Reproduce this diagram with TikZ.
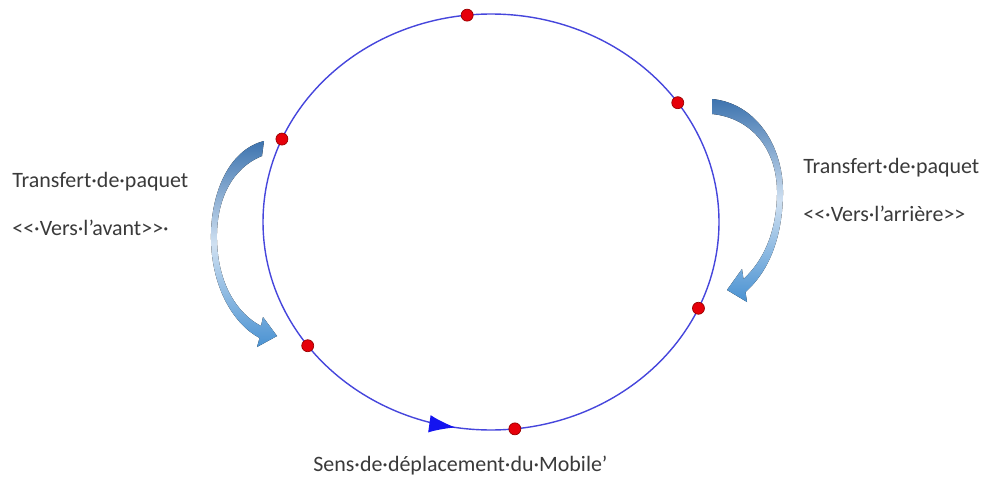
\documentclass[tikz,border=0pt]{standalone}
\usepackage{fontspec}
\setmainfont{Carlito}
\usepackage{tikz}
\usetikzlibrary{arrows.meta,decorations.markings}
\definecolor{ringblue}{HTML}{4646DC}
\definecolor{headblue}{HTML}{1414F0}
\definecolor{dotred}{HTML}{E6000A}
\definecolor{dotedge}{HTML}{9A0000}
\definecolor{ink}{HTML}{3A3A3A}
\definecolor{flowtop}{HTML}{3E74AF}
\definecolor{flowmid}{HTML}{CFE0F1}
\definecolor{flowbot}{HTML}{4A92D2}

\begin{document}
\begin{tikzpicture}[x=0.02cm, y=0.02cm,
  every node/.style={font=\fontsize{12.5}{15}\selectfont, text=ink},
  ring/.style={draw=ringblue, line width=0.8pt},
  station/.style={circle, draw=dotedge, fill=dotred, line width=0.4pt,
                  inner sep=0pt, minimum size=0.24cm},
  flow/.style={top color=flowtop, bottom color=flowbot, middle color=flowmid},
  lbl/.style={anchor=west, inner sep=0pt}
]
  \useasboundingbox (0,0) rectangle (984,481);

  % the ring and the direction of the mobile
  \draw[ring, postaction={decorate},
        decoration={markings, mark=at position 0.724 with
          {\arrow{Latex[length=15pt, width=10pt, color=headblue]}}}]
    (491,259) ellipse [x radius=228, y radius=208];

  \foreach \ang/\nm in {96/a, 35/b, 156.5/c, -24.5/d, 216.5/e, 276/f}
    \node[station] (st\nm) at ({491+228*cos(\ang)}, {259+208*sin(\ang)}) {};

  % forward transfer (left)
  \fill[flow] (264,340) .. controls (228,331) and (210,286) .. (211,241)
    .. controls (212,191) and (235,156) .. (259.6,143)
    -- (257,134) -- (277,145) -- (263,164) -- (261,155)
    .. controls (238,167) and (218,196) .. (217,241)
    .. controls (216,281) and (232,313) .. (262,325) -- cycle;

  % backward transfer (right)
  \fill[flow] (712,382) .. controls (755,378) and (784,336) .. (783,286)
    .. controls (782,241) and (768,209) .. (745.5,189)
    -- (747,179) -- (727,191) -- (742,212) -- (743.5,202)
    .. controls (762,219) and (776,246) .. (777,286)
    .. controls (778,331) and (752,363) .. (712,367) -- cycle;

  \node[lbl] (fwdtitle) at (12,299) {Transfert·de·paquet};
  \node[lbl] (fwdsub)   at (12,253) {<{}<·Vers·l’avant>{}>·};
  \node[lbl] (bwdtitle) at (803,313) {Transfert·de·paquet};
  \node[lbl] (bwdsub)   at (803,267) {<{}<·Vers·l’arrière>{}>};
  \node[lbl] (motion)   at (313,15) {Sens·de·déplacement·du·Mobile’};
\end{tikzpicture}
\end{document}
